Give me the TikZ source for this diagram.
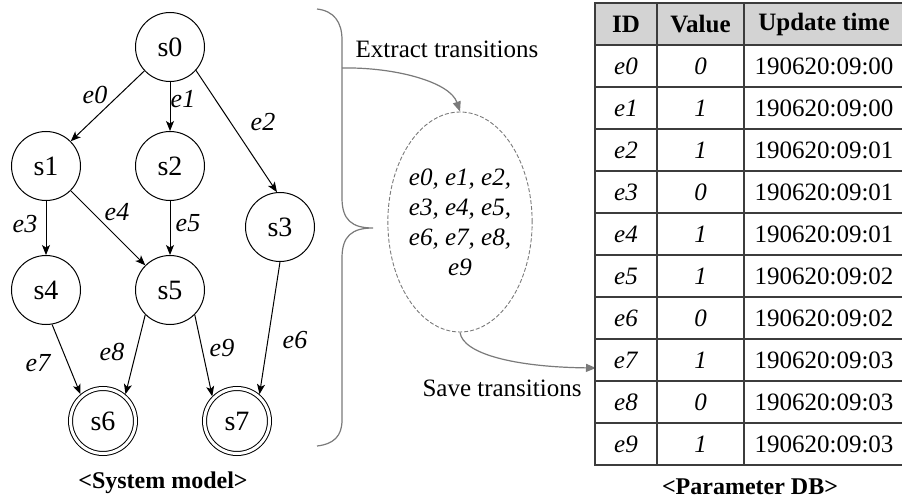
\documentclass[tikz,border=0pt]{standalone}
\usepackage{fontspec}
\setmainfont{Liberation Serif}
\usetikzlibrary{arrows.meta,shapes.geometric}

\definecolor{linkgray}{HTML}{7A7A7A}
\definecolor{tablegray}{HTML}{3C3C3C}
\definecolor{headgray}{HTML}{D3D3D3}

\tikzset{%
  state/.style={
    circle, draw, line width=1pt,
    minimum size=69pt, inner sep=0pt,
    font=\fontsize{28}{32}\selectfont
  },
  final state/.style={
    state, double, double distance=3pt,
    minimum size=65pt, outer sep=2.5pt
  },
  edge label/.style={inner sep=0pt, font=\fontsize{26}{30}\selectfont\itshape},
  cell/.style={
    draw=tablegray, line width=1.3pt,
    minimum height=42pt, inner sep=0pt,
    font=\fontsize{25}{30}\selectfont
  },
  head/.style={cell, fill=headgray, font=\fontsize{25}{30}\selectfont\bfseries},
  caption/.style={font=\fontsize{24}{28}\selectfont\bfseries},
}

\begin{document}
\begin{tikzpicture}[x=1pt, y=-1pt, >={Stealth[length=10pt,width=8pt,inset=2.5pt]}]
  \useasboundingbox (0,0) rectangle (902,500);

  % draw states
  \foreach \n/\x/\y in {0/170/47, 1/46/166, 2/170/166, 3/280/227, 4/46/290, 5/170/290}
  {
    \node [state] (s\n) at (\x,\y) {s\n};
  }
  % accepting states
  \node [final state] (s6) at (103,421) {s6};
  \node [final state] (s7) at (237,421) {s7};

  % draw transitions with their labels
  \foreach \from/\to/\l/\lx/\ly in {
      s0.223/s1.45/e0/95/95,
      s0.-90/s2.90/e1/183/99,
      s0.-42/s3.95/e2/263/122,
      s1.-90/s4.90/e3/25/224,
      s1.-45/s5.135/e4/117/212,
      s2.-90/s5.90/e5/188/223,
      s3.-90/s7.50/e6/295/340,
      s4.-80/s6.130/e7/38/363,
      s5.225/s6.50/e8/112/352,
      s5.-45/s7.135/e9/222/348}
  {
    \draw [->, line width=1pt] (\from) -- (\to);
    \node [edge label] (lab-\l) at (\lx,\ly) {\l};
  }

  \node [caption] (model-title) at (163,483) {<System model>};

  % brace over the model
  \draw [linkgray, line width=1.2pt]
    (317,9) .. controls (334,11) and (342,22) .. (342,40)
    -- (342,198) .. controls (342,220) and (352,228) .. (373,228)
    .. controls (352,228) and (342,236) .. (342,258)
    -- (342,420) .. controls (342,436) and (334,444) .. (317,446);

  % extracted transitions
  \node [ellipse, draw=linkgray, line width=0.9pt, dash pattern=on 4pt off 2pt,
         minimum width=144pt, minimum height=220pt, inner sep=0pt,
         align=center, font=\fontsize{25}{30}\selectfont\itshape]
    (trans) at (460,222) {e0, e1, e2,\\ e3, e4, e5,\\ e6, e7, e8,\\ e9};

  \coordinate (extract-start) at (342,68);
  \coordinate (save-end) at (596,368);

  \draw [-{Triangle[length=10pt,width=8pt]}, linkgray, line width=1.2pt]
    (extract-start) .. controls (395,67) and (450,82) .. (trans.north);
  \draw [-{Triangle[length=10pt,width=8pt]}, linkgray, line width=1.2pt]
    (trans.south) .. controls (463,354) and (515,367) .. (save-end);

  \node [font=\fontsize{25}{30}\selectfont] (extract) at (447,49) {Extract transitions};
  \node [font=\fontsize{25}{30}\selectfont] (save) at (502,388) {Save transitions};

  % parameter table
  \node [head, minimum width=62pt] (head-id) at (626,24) {ID};
  \node [head, minimum width=87pt] (head-value) at (700.5,24) {Value};
  \node [head, minimum width=160pt] (head-time) at (824,24) {Update time};

  \foreach \v/\t [count=\i from 0] in {0/00,1/00,1/01,0/01,1/01,1/02,0/02,1/03,0/03,1/03}
  {
    \node [cell, minimum width=62pt] (id-\i) at (626,66+42*\i) {\textit{e\i}};
    \node [cell, minimum width=87pt] (value-\i) at (700.5,66+42*\i) {\textit{\v}};
    \node [cell, minimum width=160pt] (time-\i) at (824,66+42*\i) {190620:09:\t};
  }

  \node [caption] (db-title) at (750,487) {<Parameter DB>};

\end{tikzpicture}
\end{document}
